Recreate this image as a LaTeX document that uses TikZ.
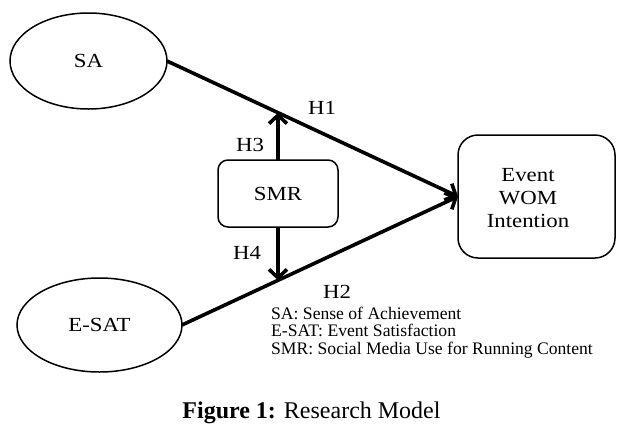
\documentclass[tikz,border=0pt]{standalone}
\usepackage{fontspec}
\setmainfont{Liberation Serif}
\newfontfamily\wideserif[FakeStretch=1.14]{Liberation Serif}
\usetikzlibrary{shapes.geometric,arrows.meta}
\begin{document}
\begin{tikzpicture}[x=1pt,y=-1pt,
  oval/.style={ellipse,draw,line width=1.5pt,inner sep=0pt,outer sep=0pt,font=\wideserif\fontsize{20}{23}\selectfont},
  rbox/.style={draw,line width=1.5pt,inner sep=0pt,outer sep=0pt,font=\wideserif\fontsize{20}{23}\selectfont,align=center},
  conn/.style={line width=3.6pt,-{Straight Barb[length=8.5pt,width=18pt]}},
  lab/.style={font=\wideserif\fontsize{20}{23}\selectfont,inner sep=0pt},
  note/.style={font=\fontsize{17.6}{17.6}\selectfont,align=left,inner sep=0pt}]
\useasboundingbox (0,0) rectangle (625,440);
\node[oval,minimum width=157pt,minimum height=96pt] (SA) at (88.5,61) {SA};
\node[oval,minimum width=165pt,minimum height=94pt] (ESAT) at (99.5,325) {E-SAT};
\node[rbox,rounded corners=10pt,minimum width=120pt,minimum height=67pt] (SMR) at (278,193.5) {SMR};
\node[rbox,rounded corners=20pt,minimum width=157pt,minimum height=123pt] (EWOM) at (536.5,196.5) {};
\node[lab,align=center] (EWOMt) at (528,198) {Event\\WOM\\Intention};
\coordinate (h3) at (intersection of SA.east--EWOM.west and SMR.north--SMR.south);
\coordinate (h4) at (intersection of ESAT.east--EWOM.west and SMR.north--SMR.south);
\draw[conn] (SA.east) -- (EWOM.west);
\draw[conn] (ESAT.east) -- (EWOM.west);
\draw[conn] (SMR.north) -- (h3);
\draw[conn] (SMR.south) -- (h4);
\node[lab] (H1) at (322,108) {H1};
\node[lab] (H3) at (250,145) {H3};
\node[lab] (H4) at (247,253) {H4};
\node[lab] (H2) at (337,292) {H2};
\node[note,anchor=west] (legend) at (271,332.5) {SA: Sense of Achievement\\E-SAT: Event Satisfaction\\SMR: Social Media Use for Running Content};
\node[font=\fontsize{24}{28}\selectfont,inner sep=0pt] (cap) at (311.5,413) {\textbf{Figure 1:} Research Model};
\end{tikzpicture}
\end{document}
